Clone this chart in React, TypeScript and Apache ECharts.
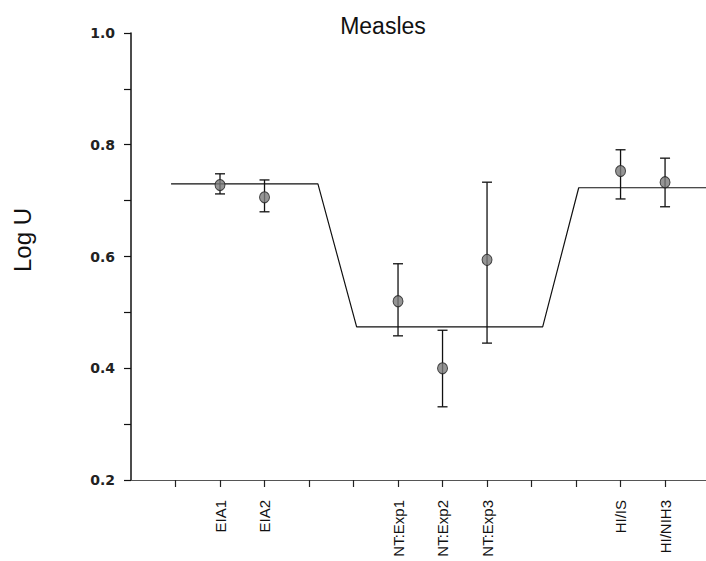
import React, { useEffect, useRef } from "react";
import * as echarts from "echarts";

const categories = ["EIA1", "EIA2", "NT:Exp1", "NT:Exp2", "NT:Exp3", "HI/IS", "HI/NIH3"];
const positions = [2, 3, 6, 7, 8, 11, 12];
const means = [0.728, 0.706, 0.52, 0.4, 0.594, 0.753, 0.733];
const lows = [0.712, 0.68, 0.458, 0.331, 0.445, 0.703, 0.689];
const highs = [0.748, 0.737, 0.587, 0.468, 0.733, 0.791, 0.776];
const fitX = [0.9, 4.2, 5.07, 9.25, 10.06, 12.92];
const fitY = [0.73, 0.73, 0.474, 0.474, 0.723, 0.723];
const xTicks = [1, 2, 3, 4, 5, 6, 7, 8, 9, 10, 11, 12];

export default function App() {
  const ref = useRef<HTMLDivElement>(null);
  useEffect(() => {
    if (!ref.current) return;
    const chart = echarts.init(ref.current, null, { renderer: "svg" });
    const font = "Liberation Sans, Arial, sans-serif";
    chart.setOption({
      animation: false,
      backgroundColor: "#ffffff",
      title: {
        text: "Measles",
        left: 378,
        textAlign: "center",
        top: 9,
        textStyle: { fontFamily: font, fontSize: 23, fontWeight: "normal", color: "#111" },
      },
      graphic: [
        {
          type: "text",
          x: 22,
          y: 240,
          rotation: Math.PI / 2,
          style: {
            text: "Log U",
            font: "24px Liberation Sans, Arial, sans-serif",
            fill: "#111",
            align: "center",
            verticalAlign: "middle",
          },
        },
      ],
      grid: {
        left: 131,
        right: 0,
        top: 33,
        bottom: 81,
        containLabel: false,
        outerBoundsMode: "none",
      },
      xAxis: {
        type: "value",
        min: 0,
        max: 12.92,
        splitLine: { show: false },
        axisLine: { show: true, lineStyle: { color: "#555", width: 1.2 } },
        axisTick: {
          show: true,
          customValues: xTicks,
          length: 7,
          lineStyle: { color: "#222", width: 1.2 },
        },
        axisLabel: {
          customValues: positions,
          rotate: 90,
          margin: 20,
          align: "right",
          verticalAlign: "middle",
          fontFamily: font,
          fontSize: 15,
          color: "#111",
          formatter: (v: number) => {
            const i = positions.indexOf(Math.round(v));
            return i >= 0 ? categories[i] : "";
          },
        },
      },
      yAxis: {
        type: "value",
        min: 0.2,
        max: 1.0,
        interval: 0.2,
        splitLine: { show: false },
        axisLine: { show: true, onZero: false, lineStyle: { color: "#111", width: 1.5 } },
        axisTick: { show: true, length: 7, lineStyle: { color: "#111", width: 1.2 } },
        minorTick: { show: true, splitNumber: 2, length: 7, lineStyle: { color: "#111", width: 1.2 } },
        axisLabel: {
          margin: 16,
          fontFamily: "DejaVu Sans, sans-serif",
          fontSize: 14,
          fontWeight: "bold",
          color: "#222",
          formatter: (v: number) => v.toFixed(1),
        },
      },
      series: [
        {
          type: "line",
          data: fitX.map((x, i) => [x, fitY[i]]),
          showSymbol: false,
          symbol: "none",
          lineStyle: { color: "#111", width: 1.2 },
          z: 2,
        },
        {
          type: "custom",
          data: positions.map((p, i) => [p, lows[i], highs[i]]),
          renderItem: (params: any, api: any) => {
            const x = api.value(0);
            const lo = api.coord([x, api.value(1)]);
            const hi = api.coord([x, api.value(2)]);
            const cap = 5;
            const style = { stroke: "#111", lineWidth: 1.3 };
            return {
              type: "group",
              children: [
                { type: "line", shape: { x1: lo[0], y1: lo[1], x2: hi[0], y2: hi[1] }, style },
                { type: "line", shape: { x1: hi[0] - cap, y1: hi[1], x2: hi[0] + cap, y2: hi[1] }, style },
                { type: "line", shape: { x1: lo[0] - cap, y1: lo[1], x2: lo[0] + cap, y2: lo[1] }, style },
              ],
            };
          },
          z: 3,
        },
        {
          type: "scatter",
          data: positions.map((p, i) => [p, means[i]]),
          symbol: "circle",
          symbolSize: [10, 11],
          itemStyle: { color: "#7a7a7a", borderColor: "#222", borderWidth: 1 },
          z: 4,
        },
      ],
    });
    return () => chart.dispose();
  }, []);
  return (
    <div
      ref={ref}
      style={{ position: "fixed", left: 0, top: 0, width: 706, height: 561 }}
    />
  );
}
